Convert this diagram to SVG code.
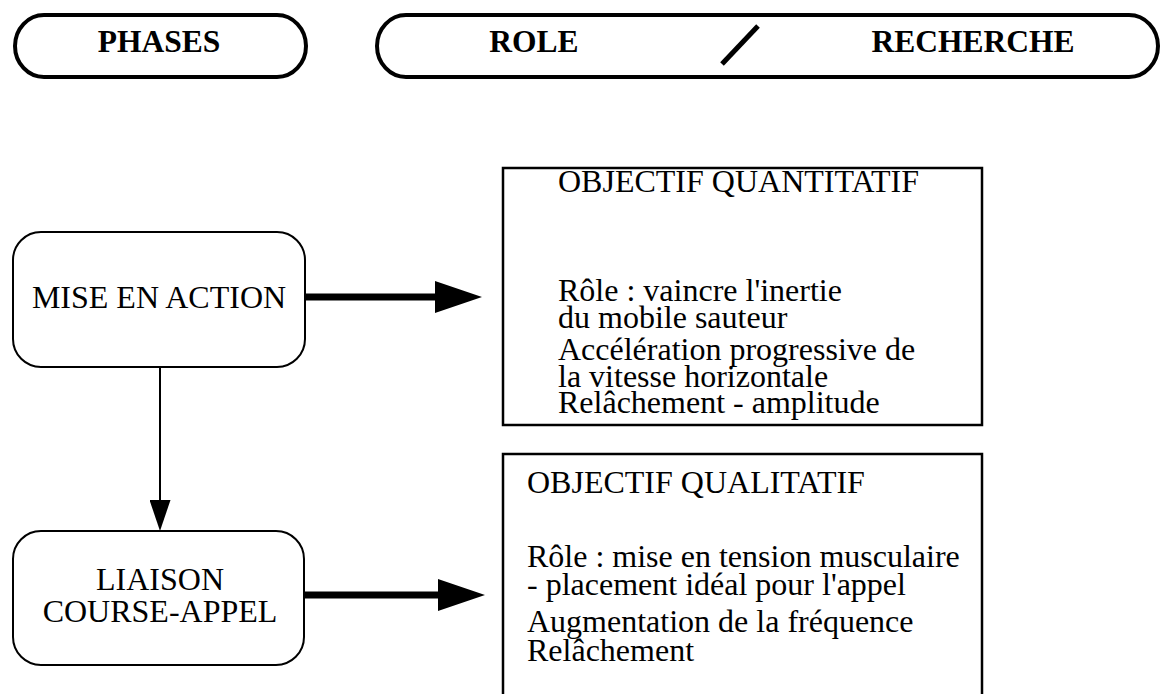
<svg xmlns="http://www.w3.org/2000/svg" width="1162" height="694" viewBox="0 0 1162 694">
<style>
  .pill { fill: #fff; stroke: #000; stroke-width: 4; }
  .phase { fill: #fff; stroke: #000; stroke-width: 2; }
  .box { fill: #fff; stroke: #000; stroke-width: 2.5; }
  .hdr { font-family: "Liberation Serif", "Times New Roman", serif; font-weight: bold; font-size: 31.5px; fill: #000; }
  .t { font-family: "Liberation Serif", "Times New Roman", serif; font-size: 32px; fill: #000; }
  .tl { font-family: "Liberation Serif", "Times New Roman", serif; font-size: 32px; fill: #000; text-anchor: middle; }
  .thick { stroke: #000; stroke-width: 7; fill: none; }
  .thin { stroke: #000; stroke-width: 2; fill: none; }
</style>
<defs>
  <marker id="bigArrow" viewBox="0 0 47 32" markerWidth="47" markerHeight="32" refX="5" refY="16" markerUnits="userSpaceOnUse" orient="auto">
    <path d="M0,0 L47,16 L0,32 Z" fill="#000"/>
  </marker>
  <marker id="smallArrow" viewBox="0 0 31 21" markerWidth="31" markerHeight="21" refX="2" refY="10.5" markerUnits="userSpaceOnUse" orient="auto">
    <path d="M0,0 L31,10.5 L0,21 Z" fill="#000"/>
  </marker>
</defs>
<rect width="1162" height="694" fill="#fff"/>

<g id="header-phases">
  <rect class="pill" x="15" y="15" width="291" height="62" rx="29" ry="31"/>
  <text class="hdr" x="159" y="52" text-anchor="middle">PHASES</text>
</g>
<g id="header-role-recherche">
  <rect class="pill" x="377" y="15" width="781" height="62" rx="29" ry="31"/>
  <text class="hdr" x="534" y="52" text-anchor="middle">ROLE</text>
  <line x1="722" y1="64" x2="758" y2="26" stroke="#000" stroke-width="5"/>
  <text class="hdr" x="973" y="52" text-anchor="middle">RECHERCHE</text>
</g>

<g id="node-mise-en-action">
  <rect class="phase" x="13" y="232" width="292" height="135" rx="28" ry="28"/>
  <text class="tl" x="159" y="308">MISE EN ACTION</text>
</g>
<g id="node-liaison">
  <rect class="phase" x="13" y="531" width="291" height="134" rx="28" ry="28"/>
  <text class="tl" x="160" y="590">LIAISON</text>
  <text class="tl" x="160" y="622">COURSE-APPEL</text>
</g>

<g id="node-objectif-quantitatif">
  <rect class="box" x="503" y="168" width="479" height="257"/>
  <text class="t" x="558" y="192">OBJECTIF QUANTITATIF</text>
  <text class="t" x="558" y="301">Rôle : vaincre l'inertie</text>
  <text class="t" x="558" y="328">du mobile sauteur</text>
  <text class="t" x="558" y="360">Accélération progressive de</text>
  <text class="t" x="558" y="387">la vitesse horizontale</text>
  <text class="t" x="558" y="413">Relâchement - amplitude</text>
</g>
<g id="node-objectif-qualitatif">
  <rect class="box" x="503" y="454" width="479" height="262"/>
  <text class="t" x="527" y="493">OBJECTIF QUALITATIF</text>
  <text class="t" x="527" y="567">Rôle : mise en tension musculaire</text>
  <text class="t" x="527" y="595">- placement idéal pour l'appel</text>
  <text class="t" x="527" y="632">Augmentation de la fréquence</text>
  <text class="t" x="527" y="661">Relâchement</text>
</g>

<g id="connectors">
  <line class="thick" x1="306" y1="297" x2="440" y2="297" marker-end="url(#bigArrow)"/>
  <line class="thick" x1="305" y1="595" x2="443" y2="595" marker-end="url(#bigArrow)"/>
  <line class="thin" x1="160" y1="368" x2="160" y2="502" marker-end="url(#smallArrow)"/>
</g>
</svg>
